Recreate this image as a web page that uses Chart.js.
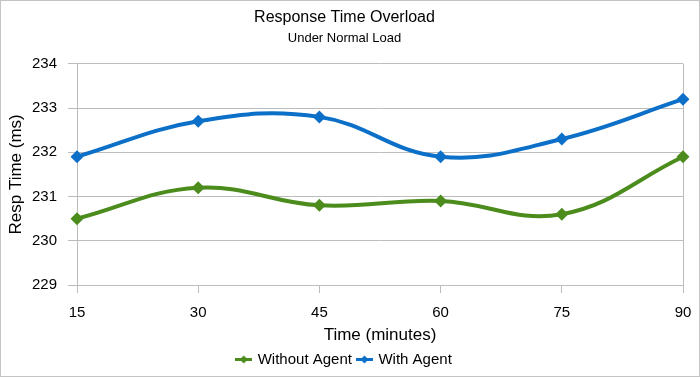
<!DOCTYPE html>
<html>
<head>
<meta charset="utf-8">
<script src="https://cdn.jsdelivr.net/npm/chart.js@4.4.1/dist/chart.umd.min.js"></script>
<style>
  html, body { margin: 0; padding: 0; background: #fff; }
  #wrap { width: 700px; height: 377px; }
</style>
</head>
<body>
<div id="wrap"><canvas id="rtChart" width="700" height="377"></canvas></div>
<script>
// data
const timeLabels = ['15', '30', '45', '60', '75', '90'];
const withoutAgent = [230.5, 231.2, 230.8, 230.9, 230.6, 231.9];
const withAgent = [231.9, 232.7, 232.8, 231.9, 232.3, 233.2];

const FONT = "'Liberation Sans Narrow', 'Arial Narrow', 'Liberation Sans', Arial, sans-serif";
const GREEN = '#4b8c1c';
const BLUE = '#0d70c8';
const GRID = '#bcbcbc';

// little line + diamond symbol for the legend
function legendSymbol(color) {
    const c = document.createElement('canvas');
    c.width = 17;
    c.height = 9;
    const g = c.getContext('2d');
    g.strokeStyle = color;
    g.lineWidth = 3;
    g.beginPath();
    g.moveTo(0, 4.5);
    g.lineTo(17, 4.5);
    g.stroke();
    g.fillStyle = color;
    g.beginPath();
    g.moveTo(8.5, 0.5);
    g.lineTo(12.5, 4.5);
    g.lineTo(8.5, 8.5);
    g.lineTo(4.5, 4.5);
    g.closePath();
    g.fill();
    return c;
}

// white background and thin frame round the whole picture
const framePlugin = {
    id: 'frame',
    beforeDraw(chart) {
        const ctx = chart.ctx;
        ctx.save();
        ctx.fillStyle = '#fff';
        ctx.fillRect(0, 0, chart.width, chart.height);
        ctx.strokeStyle = '#c4c4c4';
        ctx.lineWidth = 1;
        ctx.strokeRect(0.5, 0.5, chart.width - 1, chart.height - 1);
        ctx.restore();
    }
};

new Chart(document.getElementById('rtChart'), {
    type: 'line',
    data: {
        labels: timeLabels,
        datasets: [
            {
                label: 'Without Agent',
                data: withoutAgent,
                borderColor: GREEN,
                backgroundColor: GREEN,
                borderWidth: 4,
                pointStyle: 'rectRot',
                pointRadius: 6.5,
                pointBorderWidth: 0,
                tension: 0.4,
                legendImg: legendSymbol(GREEN)
            },
            {
                label: 'With Agent',
                data: withAgent,
                borderColor: BLUE,
                backgroundColor: BLUE,
                borderWidth: 4,
                pointStyle: 'rectRot',
                pointRadius: 6.5,
                pointBorderWidth: 0,
                tension: 0.4,
                legendImg: legendSymbol(BLUE)
            }
        ]
    },
    options: {
        responsive: false,
        animation: false,
        layout: {
            padding: { left: 6, right: 17, top: 0, bottom: 0 }
        },
        scales: {
            x: {
                grid: {
                    color: ctx => (ctx.index === 0 || ctx.index === timeLabels.length - 1) ? GRID : 'transparent',
                    tickColor: GRID,
                    tickLength: 8
                },
                border: { color: GRID },
                ticks: {
                    color: '#000',
                    font: { family: FONT, size: 15 },
                    padding: 11,
                    maxRotation: 0
                },
                title: {
                    display: true,
                    text: 'Time (minutes)',
                    color: '#000',
                    font: { family: FONT, size: 17 },
                    padding: { top: 2, bottom: 0 }
                },
                afterFit: s => {
                    s.height = 61;
                    s.paddingLeft = 0;
                    s.paddingRight = 0;
                }
            },
            y: {
                min: 229,
                max: 234,
                grid: {
                    color: GRID,
                    tickColor: GRID,
                    tickLength: 9
                },
                border: { color: GRID },
                ticks: {
                    stepSize: 1,
                    color: '#000',
                    font: { family: FONT, size: 15 },
                    padding: 11
                },
                title: {
                    display: true,
                    text: 'Resp Time (ms)',
                    color: '#000',
                    font: { family: FONT, size: 17 },
                    padding: { top: 0, bottom: 0 }
                },
                afterFit: s => { s.width = 71; }
            }
        },
        plugins: {
            title: {
                display: true,
                text: 'Response Time Overload',
                color: '#000',
                font: { family: FONT, size: 16, weight: 'normal' },
                padding: { top: 8, bottom: 0 }
            },
            subtitle: {
                display: true,
                text: 'Under Normal Load',
                color: '#000',
                font: { family: FONT, size: 13 },
                padding: { top: 3, bottom: 18 }
            },
            legend: {
                position: 'bottom',
                labels: {
                    color: '#000',
                    font: { family: FONT, size: 15 },
                    usePointStyle: true,
                    pointStyleWidth: 13,
                    padding: 6,
                    generateLabels: chart => chart.data.datasets.map((ds, i) => ({
                        text: ds.label,
                        fillStyle: ds.borderColor,
                        strokeStyle: ds.borderColor,
                        lineWidth: 0,
                        pointStyle: ds.legendImg,
                        hidden: !chart.isDatasetVisible(i),
                        datasetIndex: i
                    }))
                }
            },
            tooltip: { enabled: false }
        }
    },
    plugins: [framePlugin]
});
</script>
</body>
</html>
